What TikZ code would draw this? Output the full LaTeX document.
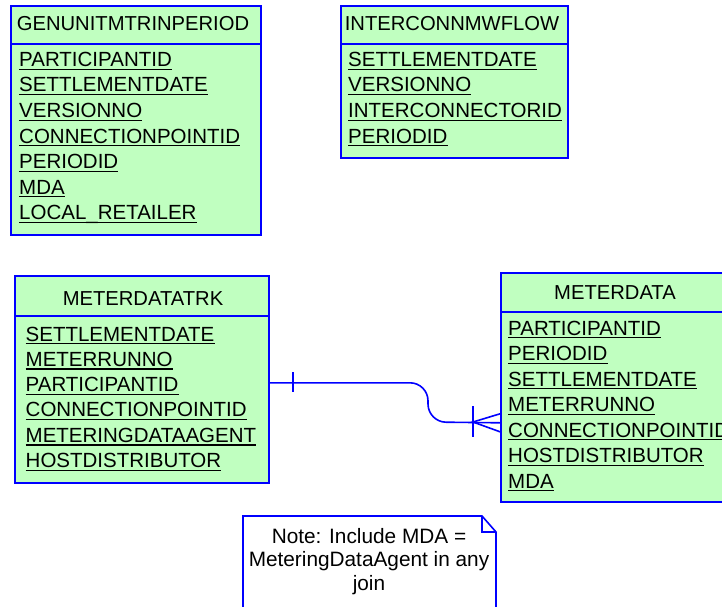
\documentclass[tikz,border=0pt]{standalone}
\usepackage{fontspec}
\setmainfont{Liberation Sans}
\definecolor{ergreen}{RGB}{192,255,192}
\definecolor{erblue}{RGB}{0,0,255}
\newcommand\fieldrow[4]{\node[fld] (#1) at (#2,#3) {#4};
  \draw[uline] ([yshift=-2.7pt]#1.base west) -- ([yshift=-2.7pt]#1.base east);}
\begin{document}
\begin{tikzpicture}[x=1pt,y=-1pt,font=\fontsize{20.5}{23.5}\selectfont,
  tbl/.style={draw=erblue,fill=ergreen,line width=1.6pt,inner sep=0,anchor=north west},
  sep/.style={draw=erblue,line width=1.6pt},
  fld/.style={anchor=base west,inner sep=0},
  ttl/.style={anchor=base,inner sep=0,font=\fontsize{20.2}{23.5}\selectfont},
  uline/.style={line width=1.2pt,black},
  rel/.style={draw=erblue,line width=1.6pt},
  notebox/.style={draw=erblue,fill=white,line width=1.6pt,line join=miter}]
\useasboundingbox (0,0) rectangle (722,607);
\clip (0,0) rectangle (722,607);
% GENUNITMTRINPERIOD
\node[tbl,minimum width=250,minimum height=229] (gbox) at (10,5) {};
\draw[sep] (10,44) -- (260,44);
\node[ttl] (gt) at (133,31) {GENUNITMTRINPERIOD};
\fieldrow{g1}{19}{66.5}{PARTICIPANTID}
\fieldrow{g2}{19}{92}{SETTLEMENTDATE}
\fieldrow{g3}{19}{117.5}{VERSIONNO}
\fieldrow{g4}{19}{143}{CONNECTIONPOINTID}
\fieldrow{g5}{19}{168.5}{PERIODID}
\fieldrow{g6}{19}{194}{MDA}
\fieldrow{g7}{19}{219.5}{LOCAL\_RETAILER}
% INTERCONNMWFLOW
\node[tbl,minimum width=227,minimum height=152] (ibox) at (340,5) {};
\draw[sep] (340,44) -- (567,44);
\node[ttl] (it) at (452,31) {INTERCONNMWFLOW};
\fieldrow{i1}{348}{66.5}{SETTLEMENTDATE}
\fieldrow{i2}{348}{92}{VERSIONNO}
\fieldrow{i3}{348}{117.5}{INTERCONNECTORID}
\fieldrow{i4}{348}{143}{PERIODID}
% METERDATATRK
\node[tbl,minimum width=254,minimum height=207] (mtrk) at (14,275) {};
\draw[sep] (14,316) -- (268,316);
\node[ttl] (mt) at (143,305) {METERDATATRK};
\fieldrow{m1}{25.5}{341}{SETTLEMENTDATE}
\fieldrow{m2}{25.5}{366.3}{METERRUNNO}
\fieldrow{m3}{25.5}{391.6}{PARTICIPANTID}
\fieldrow{m4}{25.5}{416.9}{CONNECTIONPOINTID}
\fieldrow{m5}{25.5}{442.2}{METERINGDATAAGENT}
\fieldrow{m6}{25.5}{467.5}{HOSTDISTRIBUTOR}
% METERDATA
\node[tbl,minimum width=240,minimum height=229] (md) at (500,272) {};
\draw[sep] (500,312) -- (740,312);
\node[ttl] (mdt) at (615,299) {METERDATA};
\fieldrow{d1}{508}{335}{PARTICIPANTID}
\fieldrow{d2}{508}{360.5}{PERIODID}
\fieldrow{d3}{508}{386}{SETTLEMENTDATE}
\fieldrow{d4}{508}{411.5}{METERRUNNO}
\fieldrow{d5}{508}{437}{CONNECTIONPOINTID}
\fieldrow{d6}{508}{462.5}{HOSTDISTRIBUTOR}
\fieldrow{d7}{508}{488}{MDA}
% relationship
\draw[rel,rounded corners=18pt] ([yshift=-3.5pt]mtrk.east) -| (428,422) -- ([yshift=-35.5pt]md.west);
\draw[rel] (293,372) -- (293,392);
\draw[rel] (473,406) -- (473,437);
\draw[rel] ([yshift=-26.5pt]md.west) -- (473,422) -- ([yshift=-44.5pt]md.west);
% note
\draw[notebox] (243,620) -- (243,516) -- (482,516) -- (496,532) -- (496,620);
\draw[erblue,line width=1.2pt] (482,516) -- (482,532) -- (496,532);
\node[align=center,inner sep=0,anchor=base,font=\fontsize{20.8}{23.5}\selectfont] (note) at (369,590)
  {Note: Include MDA =\\MeteringDataAgent in any\\join};
\end{tikzpicture}
\end{document}
